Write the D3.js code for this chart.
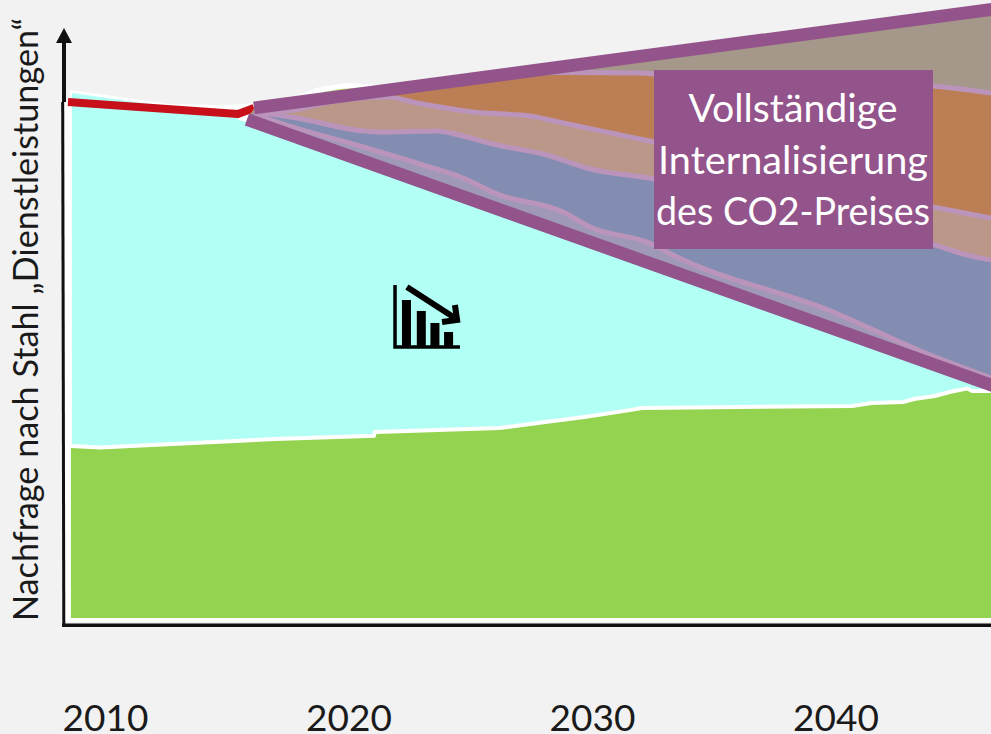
<!DOCTYPE html>
<html>
<head>
<meta charset="utf-8">
<script src="https://cdnjs.cloudflare.com/ajax/libs/d3/7.8.5/d3.min.js"></script>
<style>
  html, body { margin: 0; padding: 0; background: #f2f2f2; overflow: hidden; }
  svg { display: block; font-family: Lato, sans-serif; }
</style>
</head>
<body>
<svg id="chart" width="991" height="734"></svg>
<script>
var yearTicks = [2010, 2020, 2030, 2040];
var yLabel = "Nachfrage nach Stahl \u201EDienstleistungen\u201C";
var boxLines = ["Vollst\u00E4ndige", "Internalisierung", "des CO2-Preises"];

var outlineYears = [2008.32, 2008.52, 2008.56, 2012.67, 2014.72, 2015.54, 2016.12, 2017.89, 2018.83, 2019.94, 2021.17, 2021.91, 2050];
var outlineValues = [86, 86, 88, 85.67, 85.5, 85.58, 85.83, 87.17, 88.5, 89.17, 88.83, 88.67, 88.67];

var serviceYears = [2008.64, 2011.85, 2015.46, 2015.48, 2015.83, 2016.37, 2050];
var serviceValues = [87.5, 85.67, 84.17, 83, 82.67, 82.33, 33.67];

var greenYears = [2008.6, 2009.8, 2017.0, 2021.1, 2021.15, 2026.2, 2028.1, 2029.7, 2031.7, 2032.05, 2040.7, 2041.5, 2042.8, 2043.3, 2044.1, 2044.7, 2045.4, 2045.6, 2050];
var greenValues = [28.33, 28.1, 29.5, 30.05, 30.67, 31.33, 32.33, 33.17, 34.4, 34.67, 35, 35.5, 35.67, 36.2, 36.67, 37.33, 37.9, 37.5, 37.5];

var humpYears = [2018.83, 2019.65, 2020.47, 2021.09];
var humpValues = [87.58, 88.17, 88.42, 88.33];

var redYears = [2008.48, 2015.46, 2016.12];
var redValues = [86, 84, 85];

var wedgeTopYears = [2016.12, 2050];
var wedgeTopValues = [85, 103.38];
var wedgeLowYears = [2015.83, 2050];
var wedgeLowValues = [83.08, 33.6];

var orangeYears = [2016.12, 2026.22, 2028.4, 2031.97, 2032.55, 2038.13, 2044.0, 2046.39];
var orangeValues = [85, 90.33, 90.92, 90.83, 90.67, 89.67, 88.67, 87.5];

var tanYears = [2016.12, 2017.52, 2019.24, 2021.58, 2022.81, 2025.11, 2027.45, 2028.81, 2032.55, 2044.0, 2046.39];
var tanValues = [84.58, 84.58, 86, 86.83, 85.83, 84.33, 83.67, 82.5, 79.33, 68.5, 66.67];

var blueYears = [2016.12, 2016.49, 2017.89, 2020.6, 2021.29, 2023.63, 2024.7, 2026.1, 2028.15, 2029.79, 2032.55, 2044.0, 2045.24, 2046.39];
var blueValues = [84.33, 84.17, 83.33, 81.17, 81, 81.17, 80.33, 78.83, 77.17, 75, 73.17, 62.33, 60.67, 59.67];

var greyYears = [2016.12, 2017.19, 2020.6, 2023.06, 2024.7, 2026.1, 2028.81, 2029.92, 2032.55, 2033.08, 2039.9, 2043.59, 2046.39];
var greyValues = [84, 82.5, 78.5, 75.5, 73.33, 70.67, 67.67, 65.17, 62.17, 61, 51, 44.33, 40];

var iconBarYears = [2022.38, 2022.99, 2023.55, 2024.11];
var iconBarValues = [53, 51.17, 49.17, 47.67];
var iconFrameYears = [2021.91, 2021.91, 2024.58];
var iconFrameValues = [55.5, 45.17, 45.17];
var iconArrowYears = [2022.4, 2024.37];
var iconArrowValues = [55.17, 50];
var iconHeadYears = [2024.37, 2024.46, 2023.84];
var iconHeadValues = [52.17, 49.67, 49.33];

var svg = d3.select("#chart");

var x = d3.scaleLinear().domain([2010, 2050]).range([105, 1079]);
var y = d3.scaleLinear().domain([0, 100]).range([618, 18]);

function zip(years, values){
    return years.map(function(d, i){ return [d, values[i]]; });
}

var line = d3.line()
    .x(function(d){ return x(d[0]); })
    .y(function(d){ return y(d[1]); });

var smooth = d3.line()
    .curve(d3.curveMonotoneX)
    .x(function(d){ return x(d[0]); })
    .y(function(d){ return y(d[1]); });

function area(base){
    return d3.area()
        .x(function(d){ return x(d[0]); })
        .y0(y(base))
        .y1(function(d){ return y(d[1]); });
}

// white paper under the stacked areas
svg.append("path")
    .attr("d", area(-0.67)(zip(outlineYears, outlineValues)))
    .attr("fill", "#ffffff");

svg.append("path")
    .attr("d", line(zip(humpYears, humpValues)) + "Z")
    .attr("fill", "#c4ec80");

svg.append("path")
    .attr("d", area(0)(zip(serviceYears, serviceValues)))
    .attr("fill", "#b2fff6");

svg.append("path")
    .attr("d", line(zip(greenYears, greenValues)))
    .attr("fill", "none")
    .attr("stroke", "#ffffff")
    .attr("stroke-width", 8);

svg.append("path")
    .attr("d", area(0)(zip(greenYears, greenValues)))
    .attr("fill", "#94d350");

// axes
svg.append("path")
    .attr("d", "M63.8,627L62.7,102")
    .attr("stroke", "#111111")
    .attr("stroke-width", 3)
    .attr("fill", "none");
svg.append("path")
    .attr("d", "M62,625.3H991")
    .attr("stroke", "#111111")
    .attr("stroke-width", 3.5)
    .attr("fill", "none");
svg.append("path")
    .attr("d", "M64,102V40")
    .attr("stroke", "#111111")
    .attr("stroke-width", 4)
    .attr("fill", "none");
svg.append("path")
    .attr("d", "M64,28L72,43H56Z")
    .attr("fill", "#111111");

svg.append("path")
    .attr("d", line(zip(redYears, redValues)))
    .attr("fill", "none")
    .attr("stroke", "#c8101a")
    .attr("stroke-width", 8)
    .attr("stroke-linejoin", "round");

// scenario wedge
var wedgeTop = zip(wedgeTopYears, wedgeTopValues);
var wedgeLow = zip(wedgeLowYears, wedgeLowValues);
var wedgeShape = wedgeTop.concat(wedgeLow.slice().reverse());

svg.append("clipPath")
    .attr("id", "wedge")
    .append("path")
    .attr("d", line(wedgeShape) + "Z");

var wedge = svg.append("g").attr("clip-path", "url(#wedge)");

wedge.append("path")
    .attr("d", line(wedgeShape) + "Z")
    .attr("fill", "#a6978b");

var layers = [
    {years: orangeYears, values: orangeValues, color: "#bc7f55"},
    {years: tanYears, values: tanValues, color: "#ba9789"},
    {years: blueYears, values: blueValues, color: "#838db2"},
    {years: greyYears, values: greyValues, color: "#9f99b7"}
];

layers.forEach(function(l){
    var pts = zip(l.years, l.values);
    var closing = wedgeLow.slice().reverse().map(function(d){
        return "L" + x(d[0]) + "," + y(d[1]);
    }).join("");
    wedge.append("path")
        .attr("d", smooth(pts) + closing + "Z")
        .attr("fill", l.color);
});

layers.forEach(function(l){
    wedge.append("path")
        .attr("d", smooth(zip(l.years, l.values)))
        .attr("fill", "none")
        .attr("stroke", "#bb94bb")
        .attr("stroke-width", 5);
});

[wedgeTop, wedgeLow].forEach(function(pts){
    svg.append("path")
        .attr("d", line(pts))
        .attr("fill", "none")
        .attr("stroke", "#93548b")
        .attr("stroke-width", 12.8);
});

// box
var boxWidths = [209, 270, 274];

svg.append("rect")
    .attr("x", 654)
    .attr("y", 70)
    .attr("width", 279)
    .attr("height", 179)
    .attr("fill", "#93548b");

svg.selectAll("text.box")
    .data(boxLines)
    .enter().append("text")
    .attr("class", "box")
    .attr("x", 793)
    .attr("y", function(d, i){ return 122 + i * 51.5; })
    .attr("text-anchor", "middle")
    .attr("font-size", 39)
    .attr("textLength", function(d, i){ return boxWidths[i]; })
    .attr("lengthAdjust", "spacingAndGlyphs")
    .attr("fill", "#ffffff")
    .text(function(d){ return d; });

// falling bars icon
var icon = svg.append("g");

icon.selectAll("rect")
    .data(zip(iconBarYears, iconBarValues))
    .enter().append("rect")
    .attr("x", function(d){ return x(d[0]) - 4.5; })
    .attr("y", function(d){ return y(d[1]); })
    .attr("width", 9)
    .attr("height", function(d){ return y(iconFrameValues[1]) - y(d[1]); })
    .attr("fill", "#000000");

icon.append("path")
    .attr("d", line(zip(iconFrameYears, iconFrameValues)))
    .attr("fill", "none")
    .attr("stroke", "#000000")
    .attr("stroke-width", 3.5);

icon.append("path")
    .attr("d", line(zip(iconArrowYears, iconArrowValues)))
    .attr("fill", "none")
    .attr("stroke", "#000000")
    .attr("stroke-width", 6);

icon.append("path")
    .attr("d", line(zip(iconHeadYears, iconHeadValues)))
    .attr("fill", "none")
    .attr("stroke", "#000000")
    .attr("stroke-width", 6);

// labels
var xAxis = d3.axisBottom(x)
    .tickValues(yearTicks)
    .tickFormat(d3.format("d"))
    .tickSize(0);

var xG = svg.append("g").call(xAxis);
xG.select(".domain").remove();
xG.selectAll("text")
    .attr("y", 731)
    .attr("dy", 0)
    .attr("font-family", "Lato, sans-serif")
    .attr("font-size", 37)
    .attr("fill", "#1a1a1a");

svg.append("text")
    .attr("transform", "translate(38,621) rotate(-90)")
    .attr("font-size", 34.2)
    .attr("fill", "#1a1a1a")
    .text(yLabel);
</script>
</body>
</html>
